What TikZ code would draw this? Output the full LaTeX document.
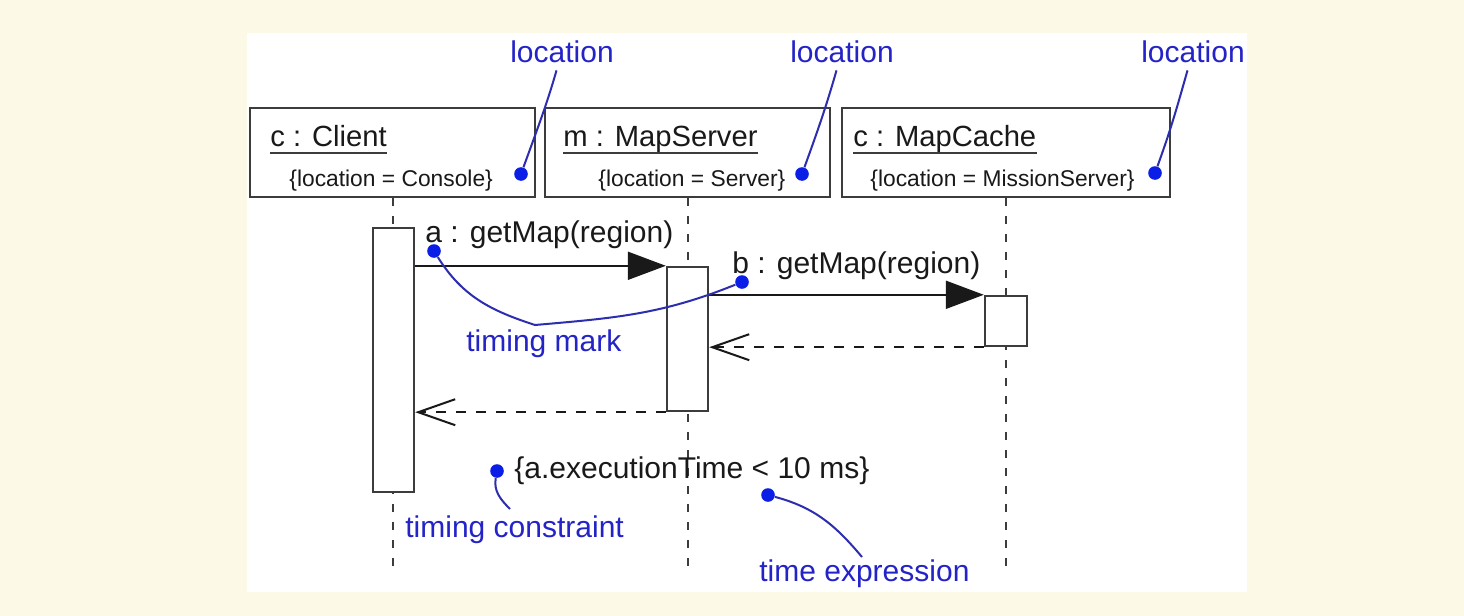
\documentclass[tikz,border=0pt]{standalone}
\usepackage{fontspec}
\setmainfont{Liberation Sans}
\usetikzlibrary{arrows.meta}
\definecolor{cream}{RGB}{253,249,231}
\definecolor{tblue}{RGB}{35,35,200}
\definecolor{lblue}{RGB}{45,45,175}
\definecolor{dblue}{RGB}{10,30,230}
\definecolor{ink}{RGB}{25,25,25}
\definecolor{edge}{RGB}{60,60,60}
\begin{document}
\begin{tikzpicture}[x=0.5pt,y=-0.5pt,
  objbox/.style={draw=edge,line width=1.2pt,fill=white,minimum height=44.5pt,inner sep=0pt},
  actbox/.style={draw=edge,line width=1.2pt,fill=white,inner sep=0pt},
  lifeline/.style={draw=edge,line width=1pt,dash pattern=on 4pt off 5pt},
  msg/.style={draw=ink,line width=1pt,-{Triangle[length=19pt,width=14pt]}},
  ret/.style={draw=ink,line width=1pt,dash pattern=on 5pt off 5pt,-{Straight Barb[length=18.5pt,width=13pt]}},
  lab/.style={anchor=base west,inner sep=0pt,text=ink,font=\fontsize{15pt}{18pt}\selectfont},
  title/.style={anchor=base west,inner sep=0pt,text=ink,font=\fontsize{14.6pt}{18pt}\selectfont},
  prop/.style={anchor=base west,inner sep=0pt,text=ink,font=\fontsize{11.4pt}{14pt}\selectfont},
  blab/.style={anchor=base west,inner sep=0pt,text=tblue,font=\fontsize{15pt}{18pt}\selectfont},
  dot/.style={circle,fill=dblue,minimum size=6.8pt,inner sep=0pt},
  lead/.style={draw=lblue,line width=1pt},
  uline/.style={draw=edge,line width=1pt}
]
\useasboundingbox (0,0) rectangle (1464,616);
\fill[cream] (0,0) rectangle (1464,616);
\fill[white] (247,33) rectangle (1247,592);

% object boxes
\node[objbox,minimum width=142.5pt] (client) at (392.5,152.5) {};
\node[objbox,minimum width=142.5pt] (server) at (687.5,152.5) {};
\node[objbox,minimum width=164pt] (cache) at (1006,152.5) {};

\node[title] (t1) at (270,146) {c : Client};
\node[title] (t2) at (563,146) {m : MapServer};
\node[title] (t3) at (853,146) {c : MapCache};
\draw[uline] ([yshift=-3.5pt]t1.base west) -- ([yshift=-3.5pt]t1.base east);
\draw[uline] ([yshift=-3.5pt]t2.base west) -- ([yshift=-3.5pt]t2.base east);
\draw[uline] ([yshift=-3.5pt]t3.base west) -- ([yshift=-3.5pt]t3.base east);

\node[prop] (p1) at (289,186) {\{location = Console\}};
\node[prop] (p2) at (598,186) {\{location = Server\}};
\node[prop] (p3) at (870,186) {\{location = MissionServer\}};

% lifelines
\coordinate (cEnd) at (393,571);
\coordinate (sEnd) at (687.5,570);
\coordinate (mEnd) at (1006,572);
\draw[lifeline] (client.south -| cEnd) -- (cEnd);
\draw[lifeline] (server.south) -- (sEnd);
\draw[lifeline] (cache.south) -- (mEnd);

% activations
\node[actbox,minimum width=20.5pt,minimum height=132pt] (actC) at (393.5,360) {};
\node[actbox,minimum width=20.5pt,minimum height=72pt] (actS) at (687.5,339) {};
\node[actbox,minimum width=21pt,minimum height=25pt] (actM) at (1006,321) {};

% messages
\draw[msg] (actC.east |- actS.north) -- (actS.north west);
\draw[msg] (actS.east |- actM.north) -- (actM.north west);
\draw[ret] (actM.south west) -- (actS.east |- actM.south);
\draw[ret] (actS.south west) -- (actC.east |- actS.south);

\node[lab] (la) at (425,242) {a : getMap(region)};
\node[lab] (lb) at (732,273) {b : getMap(region)};

% constraint
\node[lab] (cons) at (514,478) {\{a.executionTime < 10 ms\}};

% annotations: location
\node[blab,anchor=base] (loc1) at (562,62) {location};
\node[blab,anchor=base] (loc2) at (842,62) {location};
\node[blab,anchor=base] (loc3) at (1193,62) {location};
\node[dot] (d1) at (521,174) {};
\node[dot] (d2) at (802,174) {};
\node[dot] (d3) at (1155,173) {};
\draw[lead,shorten <=4pt] (loc1) to[out=-106,in=70] (d1);
\draw[lead,shorten <=4pt] (loc2) to[out=-106,in=70] (d2);
\draw[lead,shorten <=4pt] (loc3) to[out=-106,in=70] (d3);

% timing mark
\node[dot] (da) at (434,251) {};
\node[dot] (db) at (742,282) {};
\node[blab] (tmark) at (466,351) {timing mark};
\coordinate (tm) at (535,325);
\draw[lead] (tm) to[out=162,in=-58] (da);
\draw[lead] (tm) to[out=5,in=-158] (db);

% timing constraint
\node[dot] (dtc) at (497,471) {};
\node[blab] (tcon) at (405,537) {timing constraint};
\coordinate (tcEnd) at (510,509);
\draw[lead] (dtc) to[out=-100,in=135] (tcEnd);

% time expression
\node[dot] (dte) at (768,495) {};
\node[blab] (texp) at (759,581) {time expression};
\coordinate (teEnd) at (862,557);
\draw[lead] (dte) to[out=-15,in=130] (teEnd);
\end{tikzpicture}
\end{document}
